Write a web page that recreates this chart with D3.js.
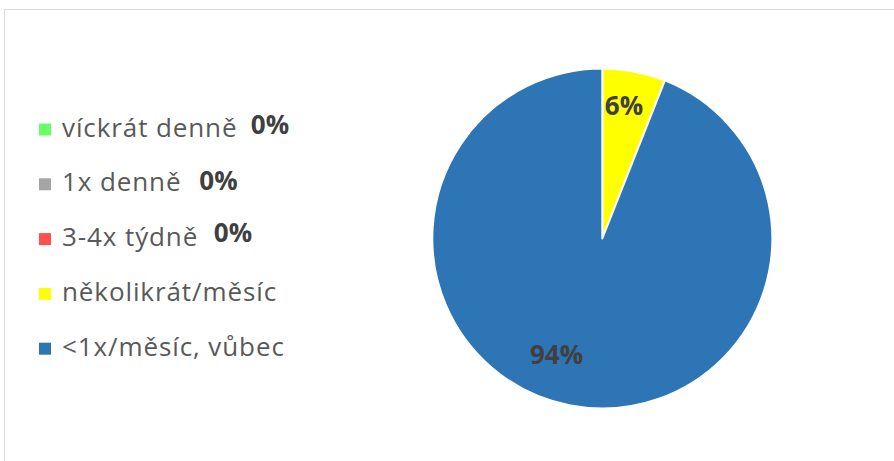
<!DOCTYPE html>
<html>
<head>
<meta charset="utf-8">
<script src="https://cdn.jsdelivr.net/npm/d3@7"></script>
<style>
  html, body { margin: 0; padding: 0; background: #fff; }
  svg { display: block; }
</style>
</head>
<body>
<svg id="chart" width="894" height="461"></svg>
<script>
// Frequency categories and their shares (percent)
const categories = ["víckrát denně", "1x denně", "3-4x týdně", "několikrát/měsíc", "<1x/měsíc, vůbec"];
const values = [0, 0, 0, 6, 94];
const colors = ["#66FF66", "#A5A5A5", "#FF5050", "#FFFF00", "#2E75B6"];

// Where each data label sits (anchor centre x, baseline y)
const labelPos = [[270, 133.5], [218.5, 190], [233, 241.5], [624, 115], [556.5, 364]];

const svg = d3.select("#chart");

// Chart-area frame
svg.append("rect")
  .attr("x", 4.5).attr("y", 9.5)
  .attr("width", 1000).attr("height", 600)
  .attr("fill", "none").attr("stroke", "#D9D9D9").attr("stroke-width", 1);

const data = categories.map((c, i) => ({ cat: c, value: values[i], color: colors[i] }));

const cx = 602.3, cy = 238.5, r = 170;

const pie = d3.pie().value(d => d.value).sort(null);
const arc = d3.arc().innerRadius(0).outerRadius(r);

const g = svg.append("g").attr("transform", `translate(${cx},${cy})`);
g.selectAll("path.slice")
  .data(pie(data))
  .join("path")
  .attr("class", "slice")
  .attr("d", arc)
  .attr("fill", d => d.data.color)
  .attr("stroke", "#fff")
  .attr("stroke-width", 2)
  .attr("stroke-linejoin", "round");

// Legend
const rowY = d3.scaleLinear().domain([0, categories.length - 1]).range([136.5, 355.7]);
const legend = svg.append("g");
const items = legend.selectAll("g.item").data(data).join("g").attr("class", "item");
items.append("rect")
  .attr("x", 39).attr("y", (d, i) => rowY(i) - 13)
  .attr("width", 12).attr("height", 12)
  .attr("fill", d => d.color);
items.append("text")
  .attr("x", 62).attr("y", (d, i) => rowY(i))
  .attr("font-family", "'Open Sans', sans-serif")
  .attr("font-size", 26)
  .attr("letter-spacing", 0.9)
  .attr("fill", "#595959")
  .text(d => d.cat);

// Data labels
const fmt = d => Math.round(d) + "%";
svg.append("g").selectAll("text")
  .data(data)
  .join("text")
  .attr("x", (d, i) => labelPos[i][0])
  .attr("y", (d, i) => labelPos[i][1])
  .attr("text-anchor", "middle")
  .attr("font-family", "'Open Sans', sans-serif")
  .attr("font-weight", "bold")
  .attr("font-size", 26)
  .attr("fill", "#404040")
  .text(d => fmt(d.value));
</script>
</body>
</html>
